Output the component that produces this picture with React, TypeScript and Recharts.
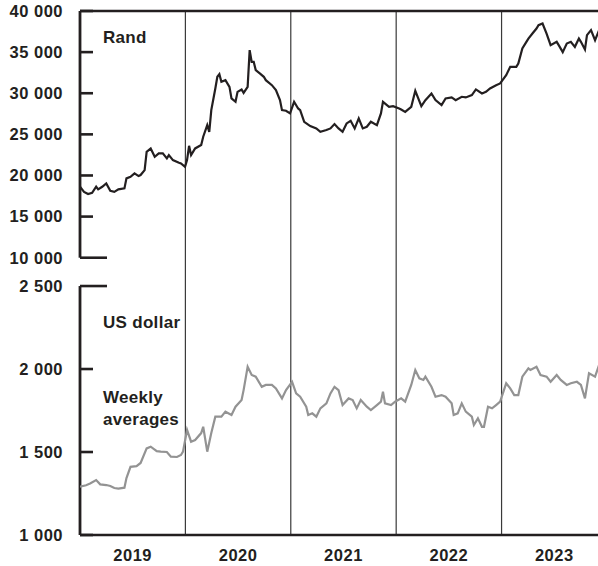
import { LineChart, Line, XAxis, YAxis, ReferenceLine } from 'recharts';

// weeks since 1 Jan 2019 and weekly average gold price
const randWeeks = [0, 2, 4, 6, 8, 9, 11, 13, 15, 17, 19, 22, 23, 25, 27, 29, 30, 32, 33, 35, 37, 39, 41, 43, 44, 46, 49, 50, 52, 53, 54, 55, 57, 60, 61, 63, 64, 65, 67, 68, 69, 70, 72, 74, 75, 77, 78, 80, 81, 83, 84, 85, 86, 87, 89, 91, 92, 95, 97, 99, 100, 102, 104, 106, 108, 109, 111, 114, 117, 119, 122, 124, 126, 128, 130, 132, 134, 136, 138, 140, 142, 144, 147, 149, 150, 153, 155, 158, 159, 161, 164, 166, 169, 171, 174, 176, 179, 181, 184, 186, 189, 191, 194, 196, 199, 201, 203, 206, 208, 211, 213, 216, 217, 219, 221, 222, 224, 226, 227, 229, 231, 233, 236, 237, 239, 241, 243, 245, 247, 248, 250, 251, 253, 255, 257];
const randValues = [18630, 18010, 17740, 17900, 18630, 18310, 18630, 19040, 18140, 18010, 18310, 18430, 19650, 19840, 20250, 19930, 20050, 20650, 22880, 23290, 22280, 22690, 22690, 22080, 22480, 21870, 21550, 21470, 21060, 21870, 23610, 22480, 23290, 23700, 24710, 26120, 25310, 27950, 30580, 32000, 32320, 31390, 31590, 30780, 29370, 28960, 30170, 30460, 30050, 30780, 35240, 33820, 33820, 32810, 32410, 32000, 31590, 30980, 30380, 29160, 27950, 27870, 27550, 28960, 28150, 27950, 26530, 26000, 25720, 25310, 25520, 25720, 26250, 25720, 25310, 26330, 26650, 25720, 26940, 25720, 25920, 26530, 26120, 27550, 28960, 28350, 28430, 28150, 28030, 27740, 28350, 30300, 28430, 29160, 29970, 29160, 28550, 29370, 29490, 29160, 29570, 29490, 29770, 30460, 29970, 30170, 30580, 30980, 31190, 32200, 33210, 33210, 33620, 35440, 36250, 36650, 37260, 37870, 38270, 38480, 37260, 35850, 36250, 35850, 35000, 36050, 36250, 35640, 36650, 36250, 35330, 37060, 37670, 36450, 37670];

const usdWeeks = [0, 3, 5, 8, 10, 13, 15, 17, 19, 22, 23, 25, 28, 30, 33, 35, 38, 40, 43, 45, 48, 50, 51, 53, 55, 57, 60, 61, 63, 65, 67, 70, 72, 75, 77, 80, 81, 83, 85, 87, 90, 92, 95, 97, 100, 102, 105, 107, 109, 112, 113, 115, 117, 119, 122, 124, 126, 128, 130, 133, 135, 137, 139, 142, 144, 147, 149, 150, 151, 154, 156, 159, 161, 164, 166, 168, 170, 171, 174, 176, 179, 181, 184, 185, 187, 189, 191, 194, 195, 197, 199, 200, 202, 204, 206, 208, 211, 213, 215, 217, 219, 222, 223, 226, 228, 231, 233, 236, 238, 241, 243, 246, 248, 250, 252, 255, 257];
const usdValues = [1291, 1300, 1310, 1331, 1305, 1301, 1295, 1283, 1280, 1285, 1343, 1411, 1415, 1434, 1522, 1532, 1505, 1502, 1500, 1472, 1470, 1482, 1502, 1633, 1562, 1572, 1614, 1652, 1502, 1614, 1713, 1713, 1743, 1723, 1773, 1813, 1873, 2014, 1964, 1954, 1893, 1904, 1904, 1883, 1823, 1873, 1923, 1853, 1833, 1773, 1723, 1733, 1713, 1763, 1793, 1853, 1893, 1873, 1783, 1823, 1813, 1763, 1813, 1773, 1753, 1783, 1803, 1863, 1793, 1783, 1803, 1823, 1803, 1904, 1994, 1944, 1934, 1954, 1893, 1833, 1843, 1833, 1793, 1723, 1733, 1793, 1743, 1713, 1663, 1703, 1652, 1652, 1773, 1763, 1783, 1803, 1914, 1883, 1843, 1843, 1954, 2004, 1994, 2014, 1964, 1954, 1923, 1964, 1934, 1904, 1914, 1923, 1904, 1823, 1974, 1954, 2024];

const yearBreaks = [2020, 2021, 2022, 2023];
const yearTicks = [2019.5, 2020.5, 2021.5, 2022.5, 2023.5];
const randTicks = [10000, 15000, 20000, 25000, 30000, 35000, 40000];
const usdTicks = [1000, 1500, 2000, 2500];

const INK = '#231f20';
const GREY = '#939393';
const FONT = '"Liberation Sans", Arial, sans-serif';
const PLOT_LEFT = 80;
const X_MIN = 2019;
const X_MAX = 2023.915;
const PX_PER_YEAR = (598 - PLOT_LEFT) / (X_MAX - X_MIN);
const TICK_SHORT = 13 / PX_PER_YEAR;
const TICK_LONG = 27 / PX_PER_YEAR;

const toYear = (w: number) => 2019 + (w * 7) / 365.25;
const randData = randWeeks.map((w, i) => ({ t: toYear(w), v: randValues[i] }));
const usdData = usdWeeks.map((w, i) => ({ t: toYear(w), v: usdValues[i] }));

const fmt = (v: number) => String(v).replace(/\B(?=(\d{3})+(?!\d))/g, ' ');

function YearTick(props: any) {
  const { x, y, payload } = props;
  return (
    <text x={x} y={y + 20} textAnchor="middle" dominantBaseline="central"
      fontFamily={FONT} fontWeight={600} fontSize={16.5} letterSpacing={0.5} fill={INK}>
      {Math.floor(payload.value)}
    </text>
  );
}

// inward tick marks with the value written to the left of the axis;
// the bottom of the rand panel and the top of the dollar panel get a longer tick
function axisTicks(axisId: string, ticks: number[], longAt: number) {
  return ticks.map((v) => (
    <ReferenceLine key={axisId + v} yAxisId={axisId} stroke={INK} strokeWidth={2.6}
      ifOverflow="visible"
      segment={[{ x: X_MIN, y: v }, { x: X_MIN + (v === longAt ? TICK_LONG : TICK_SHORT), y: v }]}
      label={{
        value: fmt(v), position: 'left', offset: 17, fill: INK,
        fontFamily: FONT, fontWeight: 600, fontSize: 16.5, letterSpacing: 0.5,
      }} />
  ));
}

const labelStyle: React.CSSProperties = {
  position: 'absolute', left: 103, fontFamily: FONT, fontWeight: 600,
  fontSize: 17, color: INK, lineHeight: '22px', letterSpacing: 0.3,
};

export default function App() {
  return (
    <div style={{ position: 'absolute', left: 0, top: 0, width: 598, height: 566, background: '#fff' }}>
      <LineChart width={598} height={566} margin={{ top: 11, right: 0, bottom: 0, left: PLOT_LEFT }}>
        <XAxis type="number" dataKey="t" domain={[X_MIN, X_MAX]} ticks={yearTicks}
          allowDataOverflow height={31} tickSize={0} tickMargin={0} tickLine={false}
          axisLine={{ stroke: INK, strokeWidth: 2.6 }} tick={(p: any) => <YearTick {...p} />} />
        <YAxis yAxisId="rand" hide domain={[-23718, 40000]} allowDataOverflow />
        <YAxis yAxisId="usd" hide domain={[1000, 4157]} allowDataOverflow />

        {yearBreaks.map((yr) => (
          <ReferenceLine key={yr} yAxisId="rand" x={yr} stroke="#3a3a3a" strokeWidth={1.2} />
        ))}
        <ReferenceLine yAxisId="rand" y={40000} stroke={INK} strokeWidth={2.6} />
        <ReferenceLine yAxisId="rand" stroke={INK} strokeWidth={2.8}
          segment={[{ x: X_MIN, y: 10000 }, { x: X_MIN, y: 40000 }]} />
        <ReferenceLine yAxisId="usd" stroke={INK} strokeWidth={2.8}
          segment={[{ x: X_MIN, y: 1000 }, { x: X_MIN, y: 2500 }]} />
        {axisTicks('rand', randTicks, 10000)}
        {axisTicks('usd', usdTicks, 2500)}

        <Line yAxisId="rand" data={randData} dataKey="v" type="linear" stroke={INK}
          strokeWidth={2.2} dot={false} isAnimationActive={false} />
        <Line yAxisId="usd" data={usdData} dataKey="v" type="linear" stroke={GREY}
          strokeWidth={2.2} dot={false} isAnimationActive={false} />
      </LineChart>
      <div style={{ ...labelStyle, top: 27 }}>Rand</div>
      <div style={{ ...labelStyle, top: 312 }}>US dollar</div>
      <div style={{ ...labelStyle, top: 387 }}>Weekly<br />averages</div>
    </div>
  );
}
